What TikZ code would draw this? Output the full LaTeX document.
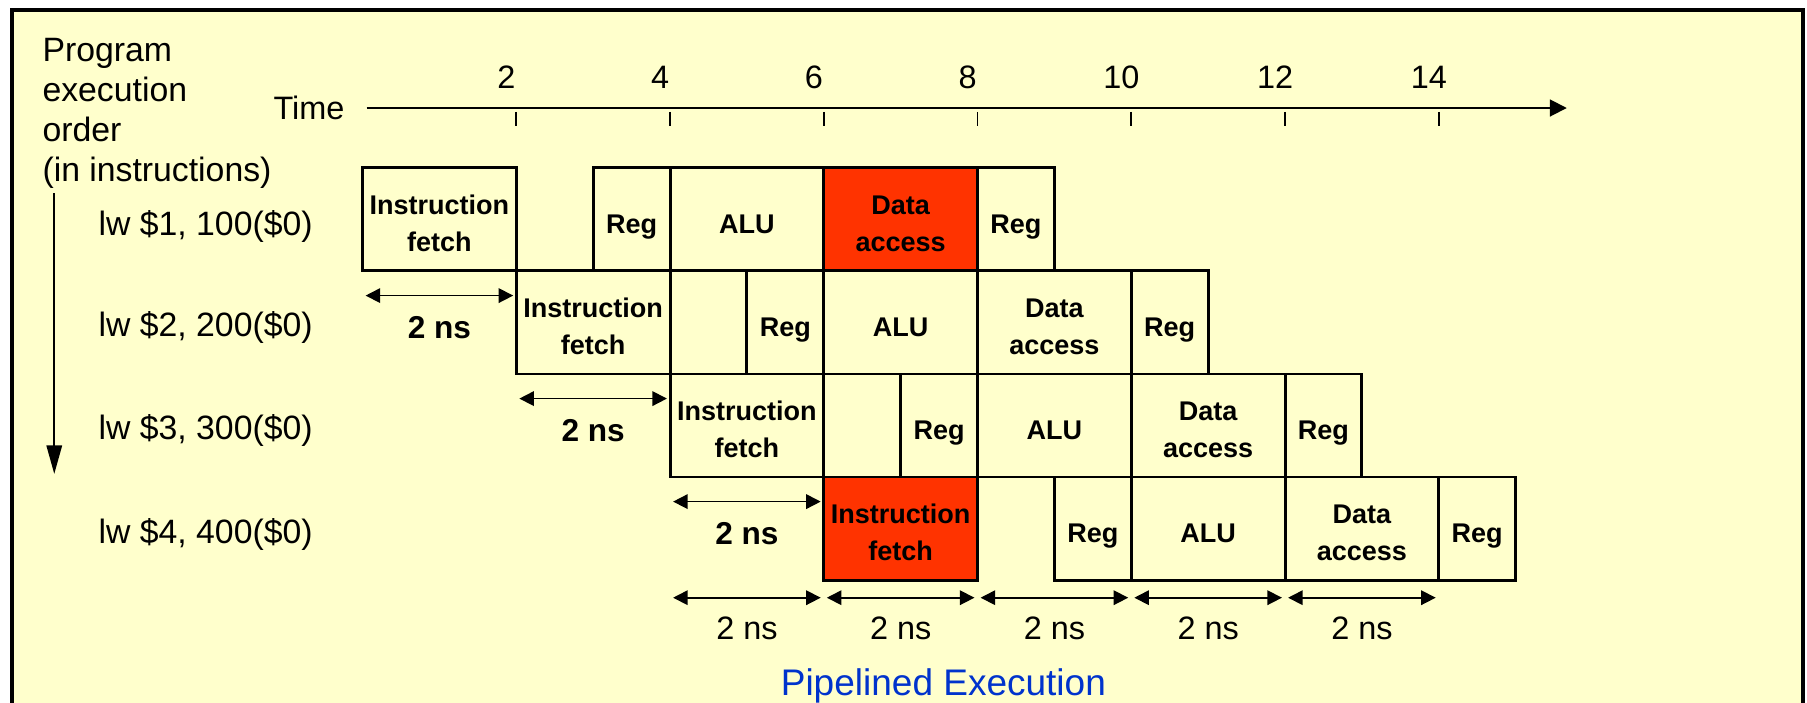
\documentclass[tikz,border=0pt]{standalone}
\usepackage{fontspec}
\setmainfont{Liberation Sans}
\usetikzlibrary{arrows.meta}
\definecolor{paper}{HTML}{FFFFCC}
\definecolor{hot}{HTML}{FF3300}
\definecolor{capblue}{HTML}{0033CC}

\begin{document}
\begin{tikzpicture}[
  stage/.style={draw, line width=1.1pt, fill=paper, inner sep=0pt, outer sep=0pt,
    anchor=north west, minimum height=1.34cm, align=center,
    font=\bfseries\fontsize{10}{13.6}\selectfont},
  long/.style={stage, minimum width=2cm, execute at begin node={\rule{0pt}{10.6pt}}},
  pair/.style={stage, minimum width=2cm, execute at begin node={\rule{0pt}{23.5pt}}},
  short/.style={stage, minimum width=1cm, text depth=0pt, execute at begin node={\rule{0pt}{10.6pt}}},
  txt/.style={inner sep=0pt, font=\fontsize{12.5}{14.8}\selectfont},
  span/.style={{Triangle[length=0.19cm,width=0.19cm]}-{Triangle[length=0.19cm,width=0.19cm]},
    line width=0.6pt, shorten <=0.04cm, shorten >=0.04cm}
]
  \useasboundingbox (-4.716,-7.727) rectangle (18.79,1.405);

  % Frame
  \fill[paper] (-4.56,-7.8) rectangle (18.74,1.275);
  \draw[line width=1.5pt] (-4.56,-7.8) -- (-4.56,1.275) -- (18.74,1.275) -- (18.74,-7.8);

  % Program order
  \node[txt, align=left, anchor=north west] (order) at (-4.17,0.92)
    {Program\\execution\\order\\(in instructions)};
  \coordinate (otop) at (-4.01,-1.11);
  \coordinate (obot) at (-4.01,-4.76);
  \draw[line width=0.7pt, -{Triangle[length=0.37cm,width=0.2cm]}] (otop) -- (obot);

  % Time axis
  \node[inner sep=0pt, anchor=east, font=\fontsize{12}{14}\selectfont] (time) at (-0.228,0) {Time};
  \coordinate (tend) at (15.665,0);
  \draw[line width=0.7pt, -{Triangle[length=0.22cm,width=0.22cm]}] ([xshift=0.28cm]time.east) -- (tend);
  \foreach \t in {2,4,...,14} {
    \draw[line width=0.7pt] (\t,-0.05) -- (\t,-0.24);
    \node[anchor=base, font=\fontsize{12}{14}\selectfont] (n\t) at (\t-0.13,0.25) {\t};
  }

  % Instructions
  \node[txt, anchor=west] (lw1) at (-3.44,-1.54) {lw \$1, 100(\$0)};
  \node[txt, anchor=west] (lw2) at (-3.44,-2.85) {lw \$2, 200(\$0)};
  \node[txt, anchor=west] (lw3) at (-3.44,-4.20) {lw \$3, 300(\$0)};
  \node[txt, anchor=west] (lw4) at (-3.44,-5.55) {lw \$4, 400(\$0)};

  % Stages, row 1
  \node[pair] (if1) at (0,-0.78) {Instruction\\fetch};
  \node[short] (rr1) at (3,-0.78) {Reg};
  \node[long] (alu1) at (4,-0.78) {ALU};
  \node[pair, fill=hot] (dm1) at (6,-0.78) {Data\\access};
  \node[short] (rw1) at (8,-0.78) {Reg};

  % Stages, row 2
  \node[pair] (if2) at (2,-2.12) {Instruction\\fetch};
  \node[short] (rr2) at (5,-2.12) {Reg};
  \node[long] (alu2) at (6,-2.12) {ALU};
  \node[pair] (dm2) at (8,-2.12) {Data\\access};
  \node[short] (rw2) at (10,-2.12) {Reg};

  % Stages, row 3
  \node[pair] (if3) at (4,-3.46) {Instruction\\fetch};
  \node[short] (rr3) at (7,-3.46) {Reg};
  \node[long] (alu3) at (8,-3.46) {ALU};
  \node[pair] (dm3) at (10,-3.46) {Data\\access};
  \node[short] (rw3) at (12,-3.46) {Reg};

  % Stages, row 4
  \node[pair, fill=hot] (if4) at (6,-4.80) {Instruction\\fetch};
  \node[short] (rr4) at (9,-4.80) {Reg};
  \node[long] (alu4) at (10,-4.80) {ALU};
  \node[pair] (dm4) at (12,-4.80) {Data\\access};
  \node[short] (rw4) at (14,-4.80) {Reg};

  % Issue spacing
  \foreach \r in {1,2,3} {
    \draw[span] ([yshift=-0.32cm]if\r.south west) -- ([yshift=-0.32cm]if\r.south east)
      node[midway, anchor=base, yshift=-0.556cm, font=\bfseries\fontsize{11.7}{14}\selectfont] (gap\r) {2 ns};
  }

  % Clock cycles
  \foreach \t in {4,6,...,12} {
    \coordinate (cs\t) at (\t,-6.37);
    \coordinate (ce\t) at (\t+2,-6.37);
    \draw[span] (cs\t) -- (ce\t)
      node[midway, anchor=base, yshift=-0.55cm, font=\fontsize{12}{14}\selectfont] (cyc\t) {2 ns};
  }

  \node[anchor=base, text=capblue, font=\fontsize{13.7}{16}\selectfont] (caption) at (7.556,-7.64)
    {Pipelined Execution};
\end{tikzpicture}
\end{document}
